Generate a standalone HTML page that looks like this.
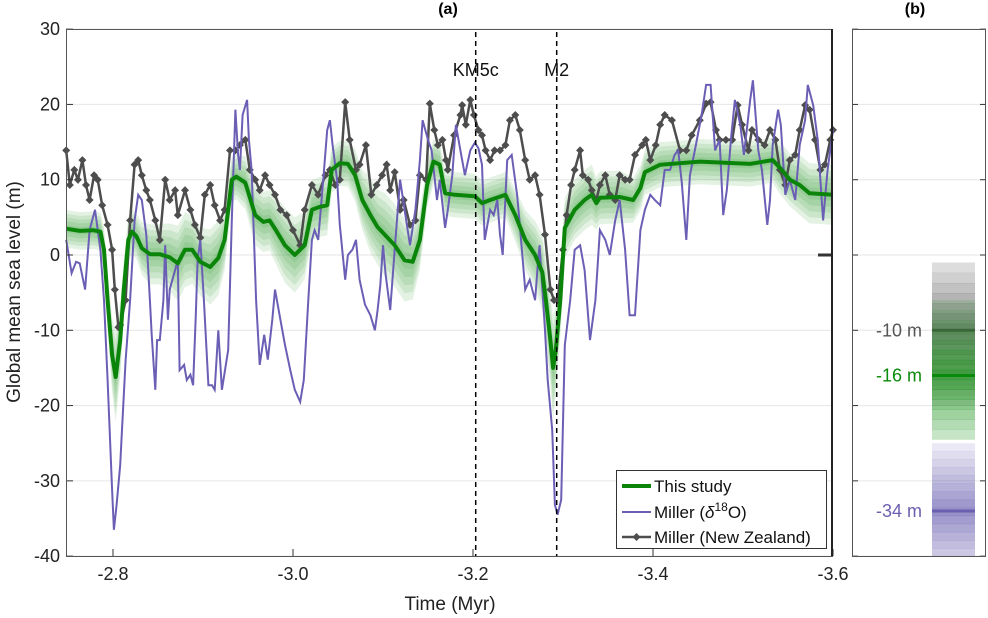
<!DOCTYPE html>
<html><head><meta charset="utf-8">
<style>
body{margin:0;background:#fff;}
svg{display:block;font-family:"Liberation Sans",Arial,sans-serif;}
</style></head>
<body>
<svg id="chart" width="988" height="618" viewBox="0 0 988 618" xmlns="http://www.w3.org/2000/svg">
<g id="grid"></g>
<g id="band"></g>
<g id="series"></g>
<g id="axes"></g>
<g id="panelb"></g>
</svg>
<script>
const yTicks=[30,20,10,0,-10,-20,-30,-40];
const xTicks=[2.8,3.0,3.2,3.4,3.6];
const xTickLabels=["-2.8","-3.0","-3.2","-3.4","-3.6"];
const events=[{name:"KM5c",t:3.203},{name:"M2",t:3.293}];
const thisT=[2.748,2.763,2.778,2.786,2.790,2.794,2.799,2.803,2.808,2.812,2.817,2.821,2.826,2.832,2.841,2.852,2.863,2.872,2.880,2.888,2.897,2.908,2.917,2.924,2.932,2.937,2.947,2.958,2.967,2.974,2.981,2.991,3.002,3.013,3.021,3.030,3.038,3.043,3.052,3.061,3.069,3.077,3.086,3.094,3.102,3.113,3.124,3.133,3.141,3.149,3.156,3.163,3.169,3.180,3.202,3.210,3.219,3.236,3.247,3.258,3.269,3.277,3.281,3.286,3.289,3.292,3.297,3.302,3.313,3.324,3.332,3.337,3.341,3.363,3.378,3.386,3.391,3.408,3.452,3.508,3.533,3.541,3.552,3.563,3.574,3.600];
const thisV=[3.5,3.2,3.3,3.1,0.7,-6.0,-13.3,-16.2,-11.3,-4.6,2.0,3.1,2.5,0.9,0.1,0.1,-0.3,-1.1,0.7,0.7,-0.9,-1.6,-0.4,2.0,10.0,10.4,9.6,5.3,4.4,4.6,3.3,1.3,0,1.3,6.0,6.4,6.6,11.3,12.2,12.1,10.6,7.3,5.3,3.7,2.7,1.3,-0.7,-0.9,2.0,9.3,12.4,12.0,8.2,8.0,7.8,6.9,7.3,8.0,5.3,2.0,0,-2.3,-6.0,-11.3,-15.0,-12.6,-6.0,3.6,6.0,7.3,8.0,6.9,7.6,7.7,7.3,8.9,11.0,12.0,12.4,12.1,12.6,11.6,10.0,9.3,8.2,8.0];
const thisU=[2.5,2.5,2.5,2.5,3,4,5,6,5,4,3,3,3,3.5,4,4,4.5,5,5,4.5,4.5,5,5,4,3,3,3.5,4,4,4,4.5,5,5,4.5,4,4,4,3,3,3,3.5,4,5,5,5.5,5.5,5.5,5,4,3,3,3,3,3,3,3,3,3,3.5,4,4.5,5,5.5,6,7,6,5,4,4,4,4,3.5,3.5,3.5,3,3,3,3,3,3,3,3.5,3.5,4,4,4];
const millerT=[2.748,2.754,2.759,2.763,2.769,2.774,2.780,2.786,2.790,2.794,2.799,2.801,2.804,2.808,2.810,2.814,2.819,2.824,2.828,2.832,2.837,2.841,2.843,2.847,2.849,2.852,2.856,2.858,2.861,2.863,2.866,2.872,2.874,2.879,2.882,2.886,2.889,2.892,2.894,2.897,2.901,2.906,2.910,2.913,2.917,2.921,2.928,2.932,2.936,2.939,2.941,2.944,2.949,2.951,2.954,2.959,2.963,2.968,2.972,2.977,2.980,2.986,2.991,2.997,3.002,3.008,3.012,3.017,3.021,3.024,3.028,3.034,3.038,3.041,3.044,3.049,3.052,3.058,3.061,3.066,3.070,3.074,3.080,3.086,3.091,3.094,3.097,3.100,3.103,3.108,3.113,3.119,3.124,3.130,3.136,3.141,3.144,3.150,3.154,3.160,3.163,3.169,3.172,3.177,3.181,3.186,3.191,3.197,3.202,3.206,3.210,3.213,3.219,3.223,3.227,3.230,3.233,3.238,3.243,3.249,3.252,3.258,3.263,3.269,3.272,3.274,3.280,3.283,3.288,3.291,3.294,3.298,3.302,3.308,3.313,3.319,3.324,3.330,3.336,3.341,3.347,3.352,3.358,3.363,3.369,3.374,3.380,3.386,3.391,3.397,3.402,3.408,3.413,3.419,3.424,3.428,3.432,3.437,3.441,3.447,3.454,3.459,3.464,3.469,3.474,3.478,3.482,3.487,3.491,3.497,3.501,3.508,3.511,3.517,3.521,3.527,3.530,3.533,3.539,3.542,3.547,3.552,3.558,3.563,3.569,3.572,3.578,3.583,3.589,3.594,3.600];
const millerV=[2.0,-2.4,-0.9,-1.1,-4.6,3.3,6.0,0.7,-6.0,-16.6,-31.2,-36.5,-33.2,-27.9,-23.2,-14.0,-6.0,4.6,8.0,7.3,2.7,-6.0,-10.6,-17.9,-11.3,-11.3,-6.0,1.3,-8.6,-4.6,-3.3,-0.7,-15.3,-14.6,-16.6,-15.9,-17.3,-8.0,-0.7,2.0,-6.0,-17.3,-17.3,-17.9,-10.0,-17.9,-12.6,4.6,19.3,13.3,11.3,18.6,20.6,15.3,11.3,-6.0,-14.6,-10.6,-13.9,-8.6,-4.6,-8.6,-11.9,-15.3,-17.9,-19.5,-16.6,-6.0,2.0,3.3,2.0,10.6,16.6,17.9,14.6,10.0,4.0,-3.3,0,0.7,2.0,-3.3,-6.6,-8.0,-10.0,-7.3,-4.0,1.3,-2.7,-7.3,0.7,10.0,6.0,1.3,6.0,12.6,17.9,15.3,13.9,7.3,10.0,3.6,6.0,10.6,17.3,13.9,10.6,13.9,14.9,14.2,12.0,2.0,6.0,5.3,7.3,2.7,0,12.6,13.3,8.0,4.0,-4.6,-3.3,-6.0,-1.3,1.3,-10.0,-16.6,-23.2,-33.2,-34.5,-32.5,-12.0,-6.0,0.7,1.3,-2.0,-11.3,-6.0,3.3,2.0,0,4.6,7.3,0.7,-8.0,-8.0,3.3,6.0,8.0,7.3,6.6,11.3,11.3,13.3,13.9,9.6,2.0,10.6,14.2,18.6,22.6,22.6,13.9,15.3,5.3,8.6,15.9,20.6,17.3,13.3,20.6,23.2,13.9,11.3,4.0,7.3,14.6,19.3,17.3,8.0,10.0,7.3,14.6,17.9,22.6,19.9,15.3,4.6,11.3,16.6];
const nzT=[2.748,2.752,2.757,2.761,2.766,2.770,2.774,2.779,2.783,2.788,2.794,2.799,2.802,2.806,2.808,2.814,2.819,2.824,2.828,2.832,2.837,2.841,2.847,2.852,2.858,2.863,2.869,2.872,2.880,2.886,2.891,2.897,2.902,2.908,2.913,2.919,2.924,2.930,2.936,2.941,2.947,2.952,2.958,2.963,2.969,2.974,2.980,2.986,2.993,3.000,3.008,3.013,3.021,3.028,3.036,3.041,3.047,3.052,3.058,3.063,3.070,3.074,3.081,3.087,3.093,3.099,3.104,3.108,3.113,3.119,3.123,3.130,3.136,3.141,3.148,3.152,3.157,3.161,3.166,3.170,3.172,3.179,3.186,3.188,3.192,3.197,3.201,3.206,3.210,3.214,3.219,3.224,3.230,3.236,3.241,3.247,3.252,3.258,3.263,3.269,3.274,3.280,3.286,3.290,3.294,3.300,3.304,3.309,3.313,3.319,3.322,3.328,3.332,3.337,3.341,3.347,3.352,3.358,3.363,3.369,3.374,3.380,3.388,3.392,3.397,3.403,3.408,3.413,3.421,3.430,3.437,3.443,3.452,3.459,3.464,3.470,3.474,3.481,3.488,3.494,3.499,3.506,3.510,3.517,3.524,3.530,3.536,3.541,3.547,3.552,3.558,3.563,3.569,3.574,3.580,3.586,3.591,3.597,3.600];
const nzV=[13.9,9.3,11.3,10.0,12.6,9.3,7.3,10.6,10.0,6.6,4.0,0.7,-4.6,-9.6,-9.3,-6.0,4.6,12.0,12.6,10.6,8.6,7.3,4.6,2.0,10.0,7.3,8.6,5.3,8.6,6.0,4.0,2.3,8.0,9.3,6.6,4.6,6.0,13.9,13.9,14.6,15.3,11.3,10.0,8.6,10.6,9.3,8.0,6.0,5.3,3.3,1.3,6.0,9.3,8.0,10.6,11.3,9.3,10.0,20.3,15.3,11.3,12.0,14.6,8.0,9.3,10.6,12.0,8.6,11.0,6.0,7.3,4.0,4.6,10.6,10.0,20.1,16.6,14.6,15.3,12.6,11.3,15.9,18.6,19.9,17.3,20.6,18.6,16.6,15.9,13.9,12.6,13.9,13.9,14.6,17.9,18.6,16.6,12.6,10.0,10.6,8.0,2.7,-4.6,-6.0,-6.0,0.7,5.3,9.3,11.3,13.9,10.6,10.0,8.6,7.3,9.3,10.6,8.0,7.3,10.6,10.0,10.0,13.3,14.6,15.3,12.6,14.6,17.3,18.6,17.9,13.9,13.9,15.9,17.9,20.1,20.3,16.6,15.3,15.3,15.3,19.9,17.3,13.9,16.6,15.3,14.6,16.6,15.3,11.3,9.3,12.6,13.3,16.6,19.9,19.3,15.3,11.3,12.0,15.3,16.6];
const bValues=[{label:"-10 m",v:-10,color:"#555",band:[-1,-20]},{label:"-16 m",v:-16,color:"#0a8a0a",band:[-6,-24.5]},{label:"-34 m",v:-34,color:"#6a5fb0",band:[-25,-40]}];

const NS="http://www.w3.org/2000/svg";
const L=66,R=832,T=29,B=556;
const xS=t=>113+(t-2.8)*900;
const yS=v=>255-v*(B-T)/70;
function mk(tag,attrs,parent){const e=document.createElementNS(NS,tag);for(const k in attrs)e.setAttribute(k,attrs[k]);parent.appendChild(e);return e;}
const grid=document.getElementById('grid'),axes=document.getElementById('axes'),band=document.getElementById('band'),series=document.getElementById('series'),pb=document.getElementById('panelb');

yTicks.forEach(v=>{
  const y=yS(v);
  const g=mk('line',{x1:L,x2:R,y1:y,y2:y,stroke:'#e6e6e6','stroke-width':1},grid);
  
  
  const g2=mk('line',{x1:852,x2:986,y1:y,y2:y,stroke:'#e6e6e6','stroke-width':1},grid);
  
  
  const tk=mk('line',{x1:L,x2:L+7,y1:y,y2:y,stroke:'#333'},axes);
  
  
  [852,986].forEach(x0=>{const t2=mk('line',{x1:x0,x2:x0+(x0===852?6:-6),y1:y,y2:y,stroke:'#333'},axes);
    
    });
  const tx=mk('text',{x:L-6,y:y+6,'text-anchor':'end','font-size':18,fill:'#222'},axes);
  tx.textContent=v;
  
  
});
xTicks.forEach((t,i)=>{
  const x=xS(t);
  const tk=mk('line',{x1:x,x2:x,y1:B,y2:B-7,stroke:'#333'},axes);
  
  
  const tx=mk('text',{x:x,y:B+24,'text-anchor':'middle','font-size':18,fill:'#222'},axes);
  tx.textContent=xTickLabels[i];
  
  
});
for(let k=5;k>=1;k--){
  const up=thisT.map((t,i)=>xS(t)+','+yS(thisV[i]+(thisU[i]||3)*k/5));
  const dn=thisT.map((t,i)=>xS(t)+','+yS(thisV[i]-(thisU[i]||3)*k/5)).reverse();
  const p=mk('polygon',{points:up.concat(dn).join(' '),fill:'#2e9a2e','fill-opacity':0.13,stroke:'none'},band);
  
  
}
const pts=(ts,vs)=>ts.map((t,i)=>xS(t).toFixed(1)+','+yS(vs[i]).toFixed(1)).join(' ');
const nz=mk('polyline',{points:pts(nzT,nzV),fill:'none',stroke:'#4d4d4d','stroke-width':2.5},series);


nzT.forEach((t,i)=>{const d=mk('path',{d:`M${xS(t)-4},${yS(nzV[i])} l4,-4 l4,4 l-4,4z`,fill:'#4d4d4d'},series);
  
  });
const mi=mk('polyline',{points:pts(millerT,millerV),fill:'none',stroke:'#6a5fb5','stroke-width':2},series);


const ts=mk('polyline',{points:pts(thisT,thisV),fill:'none',stroke:'#0a850a','stroke-width':4,'stroke-linejoin':'round'},series);


events.forEach(e=>{
  const x=xS(e.t);
  const l=mk('line',{x1:x,x2:x,y1:32,y2:B,stroke:'#000','stroke-width':1.5,'stroke-dasharray':'5,4'},axes);
  
  
  const tx=mk('text',{x:x,y:76,'text-anchor':'middle','font-size':18,fill:'#111'},axes);
  tx.textContent=e.name;
  
  
});
const dash=mk('line',{x1:818,x2:832,y1:yS(0),y2:yS(0),stroke:'#333','stroke-width':3},axes);


bValues.forEach(b=>{
  const y1=yS(b.band[0]),y2=yS(b.band[1]),n=14;
  for(let i=0;i<n;i++){
    const ya=y1+(y2-y1)*i/n,yb=y1+(y2-y1)*(i+1)/n,mid=(ya+yb)/2;
    const dist=Math.abs(mid-yS(b.v))/Math.max(Math.abs(yS(b.v)-y1),Math.abs(y2-yS(b.v)));
    const r=mk('rect',{x:932,y:ya,width:43,height:yb-ya+0.3,fill:b.color,'fill-opacity':(0.7-0.6*dist).toFixed(2)},pb);
    
    
  }
  const l=mk('line',{x1:932,x2:975,y1:yS(b.v),y2:yS(b.v),stroke:b.color,'stroke-width':3},pb);
  
  
  const tx=mk('text',{x:922,y:yS(b.v)+6,'text-anchor':'end','font-size':18,fill:b.color},pb);
  tx.textContent=b.label;
  
  
});
</script>
<svg style="position:absolute;left:0;top:0" width="988" height="618">
<rect x="66.5" y="29.5" width="766" height="527" fill="none" stroke="#555" stroke-width="1"/>
<line x1="832" y1="29" x2="832" y2="556" stroke="#222" stroke-width="2"/>
<rect x="852.5" y="29.5" width="133" height="527" fill="none" stroke="#555" stroke-width="1"/>
<text x="448" y="14" text-anchor="middle" font-weight="bold" font-size="16" font-family="Liberation Sans, sans-serif">(a)</text>
<text x="915" y="14" text-anchor="middle" font-weight="bold" font-size="16" font-family="Liberation Sans, sans-serif">(b)</text>
<text x="450" y="610" text-anchor="middle" font-size="19" fill="#222" font-family="Liberation Sans, sans-serif">Time (Myr)</text>
<text transform="translate(20,292) rotate(-90)" text-anchor="middle" font-size="19" fill="#222" font-family="Liberation Sans, sans-serif">Global mean sea level (m)</text>
<g font-family="Liberation Sans, sans-serif" font-size="17" fill="#111">
<rect x="616.5" y="470.5" width="210" height="78" fill="#fff" stroke="#333"/>
<line x1="622" x2="651" y1="486" y2="486" stroke="#0a850a" stroke-width="4"/>
<text x="654" y="492">This study</text>
<line x1="622" x2="651" y1="512" y2="512" stroke="#6a5fb5" stroke-width="2"/>
<text x="654" y="518">Miller (<tspan font-style="italic">δ</tspan><tspan dy="-7" font-size="12">18</tspan><tspan dy="7">O)</tspan></text>
<line x1="622" x2="651" y1="537" y2="537" stroke="#4d4d4d" stroke-width="2.5"/>
<path d="M632.5,537 l4,-4 l4,4 l-4,4z" fill="#4d4d4d"/>
<text x="654" y="543">Miller (New Zealand)</text>
</g>
</svg>
</body></html>
